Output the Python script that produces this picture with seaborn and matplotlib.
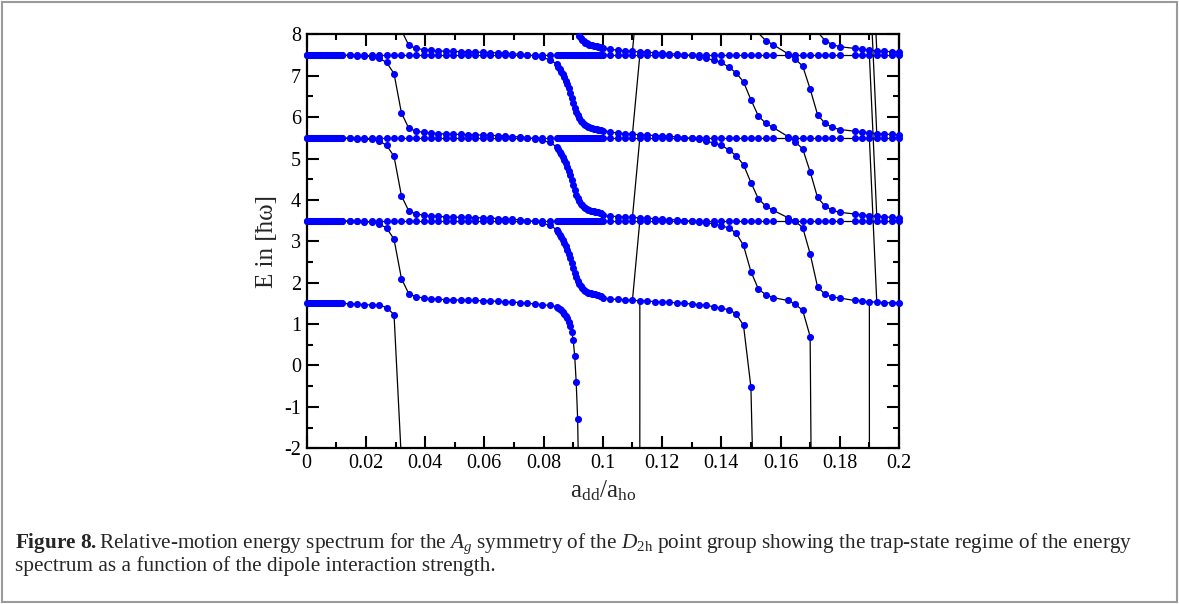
import matplotlib
matplotlib.use("Agg")
import pandas as pd
import matplotlib.pyplot as plt
import seaborn as sns
from matplotlib.ticker import MultipleLocator, FuncFormatter
from matplotlib.patches import Rectangle

# ---- sampling grid of a_dd/a_ho ----
x_dense0 = [0.0, 0.0005, 0.001, 0.0015, 0.002, 0.0025, 0.003, 0.0035, 0.004, 0.0045,
            0.005, 0.0055, 0.006, 0.0065, 0.007, 0.0075, 0.008, 0.0085, 0.009, 0.0095,
            0.01, 0.0105, 0.011, 0.0115, 0.012]
x_coarse1 = [0.0145, 0.017, 0.0195, 0.022, 0.0245, 0.027, 0.0295, 0.032, 0.0345, 0.037,
             0.0395, 0.042, 0.0445, 0.047, 0.0495, 0.052, 0.0545, 0.057, 0.0595, 0.062,
             0.0645, 0.067, 0.0695, 0.072, 0.0745, 0.077, 0.0795, 0.082, 0.0845]
x_dense2 = [0.085, 0.0855, 0.086, 0.0865, 0.087, 0.0875, 0.088, 0.0885, 0.089, 0.0895,
            0.09, 0.0905, 0.091, 0.0915, 0.092, 0.0925, 0.093, 0.0935, 0.094, 0.0945,
            0.095, 0.0955, 0.096, 0.0965, 0.097, 0.0975, 0.098, 0.0985, 0.099, 0.0995]
x_e3 = [0.1, 0.1025, 0.105, 0.1075, 0.11, 0.1125, 0.115, 0.1175, 0.12, 0.1225,
        0.125, 0.1275, 0.13, 0.1325, 0.135, 0.1375, 0.14, 0.1425, 0.145, 0.1475,
        0.15, 0.1525, 0.155, 0.1575]
x_e4 = [0.1625, 0.165, 0.1675, 0.17, 0.1725, 0.175, 0.1775, 0.18, 0.185, 0.1875,
        0.19, 0.1925, 0.195, 0.1975, 0.2]

# ---- coupled states: shift from their x=0 level during the first two drops ----
T_dense0 = [0.0] * 25
T_coarse1 = [-0.01, -0.02, -0.03, -0.04, -0.08, -0.18, -0.45, -1.40, -1.77, -1.84,
             -1.87, -1.885, -1.90, -1.91, -1.915, -1.92, -1.925, -1.93, -1.935, -1.94,
             -1.95, -1.96, -1.97, -1.98, -2.00, -2.02, -2.06, -2.11, -2.22]
T_dense2 = [-2.28, -2.34, -2.40, -2.47, -2.54, -2.62, -2.70, -2.80, -2.91, -3.03,
            -3.15, -3.27, -3.37, -3.46, -3.53, -3.59, -3.63, -3.67, -3.70, -3.72,
            -3.74, -3.75, -3.76, -3.77, -3.78, -3.785, -3.79, -3.80, -3.81, -3.82]

# third and fourth drop, relative to the level the state sits on (low = 3.5 band and below)
e3_low = [0.13, 0.11, 0.095, 0.085, 0.075, 0.065, 0.055, 0.045, 0.035, 0.025,
          0.015, 0.0, -0.015, -0.03, -0.05, -0.08, -0.12, -0.18, -0.30, -0.60,
          -1.23, -1.65, -1.79, -1.86]
e3_high = [0.17, 0.14, 0.115, 0.10, 0.085, 0.075, 0.065, 0.055, 0.045, 0.035,
           0.02, 0.005, -0.01, -0.04, -0.08, -0.13, -0.18, -0.29, -0.43, -0.65,
           -1.08, -1.47, -1.65, -1.75]
e4_low = [0.07, -0.02, -0.17, -0.80, -1.60, -1.78, -1.85, -1.87, -1.93, -1.95,
          -1.96, -1.97, -1.98, -1.99, -2.0]
e4_high = [0.03, -0.10, -0.27, -0.82, -1.44, -1.65, -1.75, -1.80, -1.84, -1.86,
           -1.88, -1.90, -1.91, -1.92, -1.93]

start_levels = [1.5, 3.5, 5.5, 7.5, 9.5, 11.5, 13.5, 15.5]
drop_before_e3 = 4.0
drop_before_e4 = 6.0
flat_levels = [3.5, 5.5, 7.5]

# states that dive to -inf: own values near the dive, last sample
dive_values = {
    0: {0.0245: 1.46, 0.027: 1.40, 0.0295: 1.23, 0.032: -2.3},
    1: {0.077: 1.49, 0.0795: 1.47, 0.082: 1.45, 0.0845: 1.42, 0.085: 1.40, 0.0855: 1.37,
        0.086: 1.33, 0.0865: 1.29, 0.087: 1.25, 0.0875: 1.20, 0.088: 1.14, 0.0885: 1.06,
        0.089: 0.96, 0.0895: 0.82, 0.09: 0.61, 0.0905: 0.24, 0.091: -0.39, 0.0915: -1.29,
        0.092: -3.5},
    2: {0.1425: 1.35, 0.145: 1.25, 0.1475: 0.97, 0.15: -0.52, 0.1525: -8.0},
    3: {0.1725: -22.0},
}
dive_end = {0: 0.032, 1: 0.092, 2: 0.1525, 3: 0.1725}

# narrow resonances: deep state leaves (levels shift up) / comes back (levels shift down)
cross_up = (0.11, 0.1125)
cross_up_curves = [2, 3, 4, 5]
cross_down = (0.19, 0.1925)
cross_down_curves = [4, 5, 6, 7]
deep_E = -1000.0

x_early = x_dense0 + x_coarse1 + x_dense2
T_early = T_dense0 + T_coarse1 + T_dense2
x_all = x_early + x_e3 + x_e4


def coupled(k):
    start = start_levels[k]
    xs = list(x_early)
    es = [start + t for t in T_early]
    b3 = start - drop_before_e3
    for x, r in zip(x_e3, e3_low if b3 <= 3.5 else e3_high):
        xs.append(x)
        es.append(b3 + r)
    b4 = start - drop_before_e4
    for x, r in zip(x_e4, e4_low if b4 <= 3.5 else e4_high):
        xs.append(x)
        es.append(b4 + r)
    over = dive_values.get(k, {})
    es = [over.get(round(x, 4), e) for x, e in zip(xs, es)]
    end = dive_end.get(k, 1.0)
    return [(x, e) for x, e in zip(xs, es) if x <= end + 1e-9]


rows = []
curves = {}
for k in range(len(start_levels)):
    curves[k] = dict((round(x, 4), e) for x, e in coupled(k))
    rows += [(f"C{k}", x, e) for x, e in coupled(k)]
for L in flat_levels:
    rows += [(f"F{L}", x, L) for x in x_all]
df = pd.DataFrame(rows, columns=["curve", "x", "E"])

seg = []
x0, x1 = cross_up
for k in cross_up_curves:
    base = start_levels[k] - drop_before_e3
    seg += [(f"u{k}", x0, curves[k][x0]), (f"u{k}", x1, base + 2)]
seg += [("uD", x0, deep_E), ("uD", x1, curves[cross_up_curves[0]][x1])]
x0, x1 = cross_down
for k in cross_down_curves:
    base = start_levels[k] - drop_before_e4
    seg += [(f"d{k}", x0, base + 2), (f"d{k}", x1, curves[k][x1])]
seg += [("dD", x0, curves[cross_down_curves[0]][x0]), ("dD", x1, deep_E)]
df_seg = pd.DataFrame(seg, columns=["curve", "x", "E"])

# ---- style ----
sns.set_theme(style="ticks")
plt.rcParams["font.family"] = ["Liberation Serif", "DejaVu Serif"]
plt.rcParams["mathtext.fontset"] = "custom"
plt.rcParams["mathtext.rm"] = "Liberation Serif"
plt.rcParams["mathtext.it"] = "Liberation Serif:italic"
plt.rcParams["mathtext.bf"] = "Liberation Serif:bold"
plt.rcParams["axes.unicode_minus"] = False

fig = plt.figure(figsize=(11.79, 6.04), dpi=100)
ax = fig.add_axes([0.2601, 0.2578, 0.5024, 0.6854])

sns.lineplot(data=df_seg, x="x", y="E", units="curve", estimator=None, sort=False,
             color="black", linewidth=0.9, ax=ax, legend=False)
sns.lineplot(data=df, x="x", y="E", units="curve", estimator=None, sort=False,
             color="black", linewidth=0.9, ax=ax, legend=False)
pts = df[(df["E"] >= -2) & (df["E"] <= 8)]
sns.scatterplot(data=pts, x="x", y="E", color="#0000ff", s=26, linewidth=0,
                ax=ax, legend=False, clip_on=False, zorder=3)

ax.set_xlim(0, 0.2)
ax.set_ylim(-2, 8)
ax.xaxis.set_major_locator(MultipleLocator(0.02))
ax.xaxis.set_minor_locator(MultipleLocator(0.01))
ax.yaxis.set_major_locator(MultipleLocator(1))
ax.yaxis.set_minor_locator(MultipleLocator(0.5))
ax.xaxis.set_major_formatter(FuncFormatter(lambda v, p: "%g" % round(v, 4)))
ax.yaxis.set_major_formatter(FuncFormatter(lambda v, p: "%g" % round(v, 4)))
ax.tick_params(which="both", direction="in", top=True, right=True, width=1.5,
               labelsize=14.5, color="black", labelcolor="black")
ax.tick_params(which="major", length=8.5, pad=4)
ax.tick_params(which="minor", length=4.5)
for s in ax.spines.values():
    s.set_linewidth(1.6)
    s.set_color("black")
ax.set_xlabel("")
ax.set_ylabel("")

fig.text(603 / 1179, 1 - 491 / 604, r"a$_{\rm dd}$/a$_{\rm ho}$", fontsize=18,
         ha="center", va="center")
fig.text(267 / 1179, 1 - 241 / 604, "E in [ħω]", fontsize=18, rotation=90,
         ha="center", va="center")

fig.text(15 / 1179, 1 - 544 / 604,
         r"$\mathbf{Figure\ 8.}$Relative-motion energy spectrum for the $A_g$ symmetry of the "
         r"$D_{\rm 2h}$ point group showing the trap-state regime of the energy",
         fontsize=15.3, ha="left", va="center")
fig.text(15 / 1179, 1 - 566 / 604,
         "spectrum as a function of the dipole interaction strength.",
         fontsize=15.3, ha="left", va="center")

fig.patches.append(Rectangle((0.002, 0.004), 0.996, 0.992, transform=fig.transFigure,
                             fill=False, edgecolor="#9a9a9a", linewidth=1.5))

fig.savefig("out.png", dpi=100)
